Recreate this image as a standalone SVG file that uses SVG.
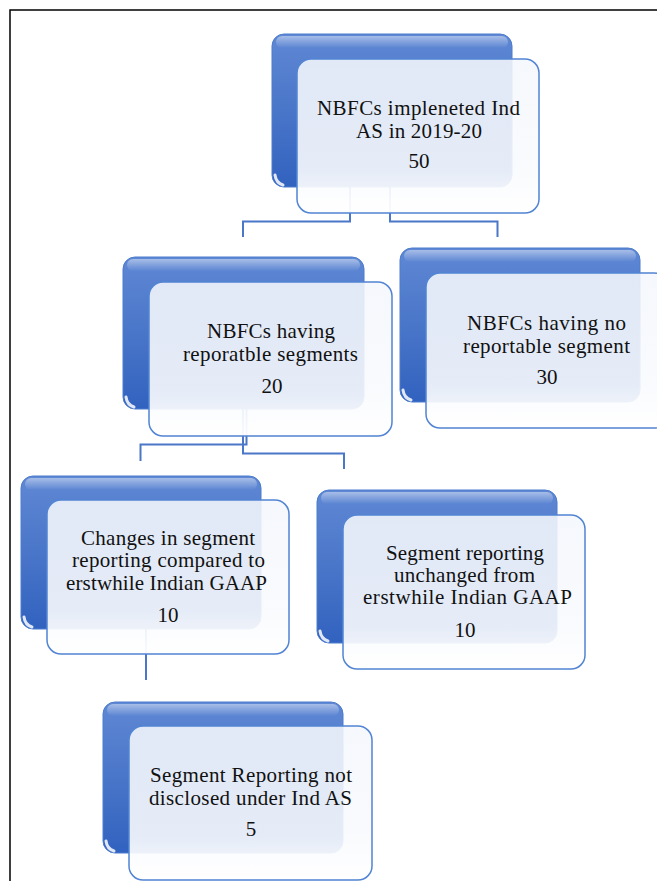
<svg xmlns="http://www.w3.org/2000/svg" width="657" height="881" viewBox="0 0 657 881">
<defs>
<linearGradient id="gBack" x1="0" y1="0" x2="0" y2="1">
<stop offset="0" stop-color="#5f88d4"/>
<stop offset="0.5" stop-color="#4a76c9"/>
<stop offset="1" stop-color="#3162bf"/>
</linearGradient>
<linearGradient id="gGloss" x1="0" y1="0" x2="0" y2="1">
<stop offset="0" stop-color="#ffffff" stop-opacity="0.45"/>
<stop offset="1" stop-color="#ffffff" stop-opacity="0"/>
</linearGradient>
<linearGradient id="gFront" x1="0" y1="0" x2="0" y2="1">
<stop offset="0" stop-color="#f4f7fc" stop-opacity="0.88"/>
<stop offset="0.7" stop-color="#f8fafd" stop-opacity="0.9"/>
<stop offset="1" stop-color="#ffffff" stop-opacity="0.96"/>
</linearGradient>
</defs>
<style>
.back{fill:url(#gBack);stroke:#4d7ccc;stroke-width:1}
.gloss{fill:url(#gGloss)}
.glint{fill:none;stroke:#ffffff;stroke-opacity:0.85;stroke-width:3;stroke-linecap:round}
.front{fill:url(#gFront);stroke:#5284d4;stroke-width:1.5}
.conn{fill:none;stroke:#4a77c7;stroke-width:2}
.frame{fill:none;stroke:#000;stroke-width:1.5}
text{font-family:"Liberation Serif","Times New Roman",serif;font-size:21px;fill:#111}
.c{text-anchor:middle}
</style>
<rect width="657" height="881" fill="#fff"/>
<path class="frame" d="M10,881 V10 H657"/>
<g id="connectors">
<path class="conn" d="M350,187 V221.5 H243 V237"/>
<path class="conn" d="M390,187 V221.5 H497.5 V237"/>
<path class="conn" d="M246.5,409 V444.5 H140.5 V461"/>
<path class="conn" d="M243,409 V453.5 H344 V469"/>
<path class="conn" d="M146,629 V680"/>
</g>
<g id="node1">
<rect class="back" x="272" y="34" width="240" height="153" rx="12"/>
<rect class="gloss" x="276" y="36" width="232" height="12" rx="6"/>
<path class="glint" d="M275,175 Q276,183 283,185"/>
<rect class="front" x="297" y="59" width="242" height="154" rx="14"/>
<text x="317" y="115" textLength="203" lengthAdjust="spacing">NBFCs impleneted Ind</text>
<text x="356" y="138" textLength="126" lengthAdjust="spacing">AS in 2019-20</text>
<text class="c" x="419" y="168">50</text>
</g>
<g id="node2">
<rect class="back" x="123" y="257" width="241" height="152" rx="12"/>
<rect class="gloss" x="127" y="259" width="233" height="12" rx="6"/>
<path class="glint" d="M126,397 Q127,405 134,407"/>
<rect class="front" x="149" y="282" width="243" height="154" rx="14"/>
<text x="207" y="338" textLength="128" lengthAdjust="spacing">NBFCs having</text>
<text x="183" y="361" textLength="175" lengthAdjust="spacing">reporatble segments</text>
<text class="c" x="272" y="393">20</text>
</g>
<g id="node3">
<rect class="back" x="400" y="248" width="240" height="154" rx="12"/>
<rect class="gloss" x="404" y="250" width="232" height="12" rx="6"/>
<path class="glint" d="M403,390 Q404,398 411,400"/>
<rect class="front" x="426" y="273" width="242" height="155" rx="14"/>
<text x="467" y="330" textLength="159" lengthAdjust="spacing">NBFCs having no</text>
<text x="463" y="353" textLength="167" lengthAdjust="spacing">reportable segment</text>
<text class="c" x="547" y="384">30</text>
</g>
<g id="node4">
<rect class="back" x="21" y="476" width="240" height="153" rx="12"/>
<rect class="gloss" x="25" y="478" width="232" height="12" rx="6"/>
<path class="glint" d="M24,617 Q25,625 32,627"/>
<rect class="front" x="47" y="500" width="242" height="154" rx="14"/>
<text x="81" y="545" textLength="174" lengthAdjust="spacing">Changes in segment</text>
<text x="72" y="567" textLength="193" lengthAdjust="spacing">reporting compared to</text>
<text x="66" y="590" textLength="201" lengthAdjust="spacing">erstwhile Indian GAAP</text>
<text class="c" x="168" y="622">10</text>
</g>
<g id="node5">
<rect class="back" x="317" y="490" width="240" height="153" rx="12"/>
<rect class="gloss" x="321" y="492" width="232" height="12" rx="6"/>
<path class="glint" d="M320,631 Q321,639 328,641"/>
<rect class="front" x="343" y="515" width="242" height="154" rx="14"/>
<text x="386" y="560" textLength="158" lengthAdjust="spacing">Segment reporting</text>
<text x="394" y="582" textLength="141" lengthAdjust="spacing">unchanged from</text>
<text x="363" y="604" textLength="209" lengthAdjust="spacing">erstwhile Indian GAAP</text>
<text class="c" x="465" y="637">10</text>
</g>
<g id="node6">
<rect class="back" x="103" y="702" width="240" height="151" rx="12"/>
<rect class="gloss" x="107" y="704" width="232" height="12" rx="6"/>
<path class="glint" d="M106,841 Q107,849 114,851"/>
<rect class="front" x="129" y="726" width="243" height="154" rx="14"/>
<text x="150" y="782" textLength="202" lengthAdjust="spacing">Segment Reporting not</text>
<text x="149" y="805" textLength="203" lengthAdjust="spacing">disclosed under Ind AS</text>
<text class="c" x="251" y="836">5</text>
</g>
</svg>
